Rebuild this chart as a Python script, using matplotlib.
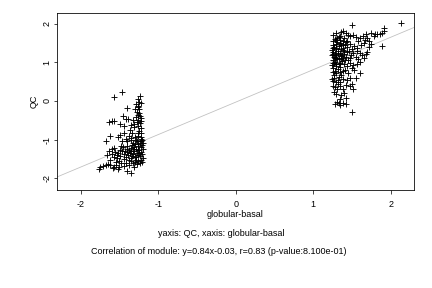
import matplotlib
matplotlib.use("Agg")
from matplotlib import pyplot as plt

# left cluster (basal side)
left_pts = [
    (-1.47, 0.24), (-1.57, 0.09), (-1.24, 0.14), (-1.27, 0.04), (-1.25, -0.04), (-1.29, -0.08),
    (-1.41, -0.19), (-1.27, -0.12), (-1.25, -0.22), (-1.30, -0.20),
    (-1.64, -0.54), (-1.60, -0.52), (-1.57, -0.53), (-1.46, -0.39), (-1.42, -0.46), (-1.39, -0.46),
    (-1.49, -0.61), (-1.44, -0.64), (-1.27, -0.36), (-1.24, -0.39), (-1.29, -0.41), (-1.27, -0.49),
    (-1.24, -0.58), (-1.26, -0.66), (-1.22, -0.71), (-1.25, -0.30), (-1.28, -0.29), (-1.23, -0.45),
    (-1.62, -0.91), (-1.68, -1.04), (-1.52, -0.94), (-1.49, -0.88), (-1.45, -0.84), (-1.37, -0.75),
    (-1.34, -0.82), (-1.32, -0.68), (-1.30, -0.93), (-1.27, -0.84), (-1.23, -0.93), (-1.25, -0.78),
    (-1.31, -0.60), (-1.48, -1.18), (-1.41, -1.05), (-1.36, -1.01), (-1.33, -1.09), (-1.38, -0.90),
    (-1.35, -0.95), (-1.29, -1.00), (-1.22, -0.98),
    (-1.22, -1.05), (-1.24, -1.10), (-1.21, -1.15), (-1.26, -1.12), (-1.23, -1.20), (-1.20, -1.25),
    (-1.25, -1.28), (-1.22, -1.32), (-1.21, -1.38), (-1.24, -1.42), (-1.20, -1.47), (-1.23, -1.52),
    (-1.26, -1.55), (-1.21, -1.58), (-1.24, -1.62), (-1.20, -1.10), (-1.21, -1.02),
    (-1.28, -1.05), (-1.30, -1.12), (-1.27, -1.18), (-1.29, -1.24), (-1.31, -1.30), (-1.28, -1.35),
    (-1.27, -1.41), (-1.30, -1.46), (-1.29, -1.52), (-1.27, -1.27), (-1.32, -1.20), (-1.33, -1.38),
    (-1.30, -1.58), (-1.34, -1.15), (-1.36, -1.22), (-1.35, -1.30), (-1.37, -1.35), (-1.34, -1.42),
    (-1.36, -1.48), (-1.38, -1.28), (-1.33, -1.25), (-1.39, -1.40), (-1.35, -1.55), (-1.38, -1.52),
    (-1.40, -1.33), (-1.41, -1.25), (-1.42, -1.45), (-1.44, -1.38), (-1.43, -1.30), (-1.45, -1.50),
    (-1.40, -1.18), (-1.47, -1.30), (-1.50, -1.28), (-1.52, -1.35), (-1.54, -1.40), (-1.49, -1.42),
    (-1.56, -1.32), (-1.53, -1.48), (-1.51, -1.55), (-1.58, -1.45), (-1.55, -1.58), (-1.60, -1.38),
    (-1.62, -1.52), (-1.48, -1.62), (-1.45, -1.68), (-1.51, -1.70), (-1.58, -1.72),
    (-1.77, -1.76), (-1.75, -1.72), (-1.72, -1.68), (-1.68, -1.65), (-1.65, -1.63), (-1.62, -1.66),
    (-1.59, -1.75), (-1.55, -1.65), (-1.52, -1.76), (-1.40, -1.81), (-1.35, -1.87), (-1.42, -1.62),
    (-1.38, -1.65), (-1.33, -1.62), (-1.32, -1.70), (-1.28, -1.63),
    (-1.64, -1.30), (-1.66, -1.40), (-1.57, -1.22), (-1.60, -1.24), (-1.46, -1.20),
    (-1.26, -0.15), (-1.23, -0.05), (-1.28, -0.55), (-1.22, -0.52), (-1.26, -0.92), (-1.23, -0.82),
    (-1.33, -0.50), (-1.36, -0.62), (-1.42, -0.98), (-1.47, -1.05), (-1.25, -1.35), (-1.29, -1.45),
]

# right cluster (globular side)
right_pts = [
    (1.25, 1.70), (1.30, 1.75), (1.36, 1.78), (1.39, 1.82), (1.42, 1.75), (1.45, 1.70), (1.50, 1.97),
    (1.33, 1.65), (1.28, 1.60), (1.26, 1.55), (1.31, 1.52), (1.35, 1.58), (1.40, 1.62), (1.44, 1.55),
    (1.48, 1.68), (1.52, 1.72), (1.55, 1.65),
    (1.25, 1.45), (1.27, 1.40), (1.30, 1.48), (1.33, 1.42), (1.36, 1.46), (1.38, 1.38), (1.41, 1.44),
    (1.44, 1.40), (1.47, 1.47), (1.50, 1.35), (1.53, 1.42), (1.56, 1.38),
    (1.24, 1.32), (1.26, 1.28), (1.29, 1.35), (1.32, 1.30), (1.35, 1.25), (1.38, 1.32), (1.40, 1.22),
    (1.43, 1.28), (1.46, 1.30), (1.49, 1.18), (1.52, 1.25),
    (1.24, 1.18), (1.27, 1.15), (1.30, 1.20), (1.33, 1.12), (1.36, 1.16), (1.39, 1.10), (1.42, 1.14),
    (1.45, 1.05), (1.48, 1.10), (1.55, 1.15),
    (1.25, 1.05), (1.28, 1.00), (1.31, 1.08), (1.34, 0.98), (1.37, 1.03), (1.40, 0.95), (1.43, 0.90),
    (1.47, 0.98), (1.52, 0.92),
    (1.24, 0.92), (1.26, 0.85), (1.29, 0.90), (1.32, 0.82), (1.35, 0.88), (1.38, 0.78), (1.41, 0.80),
    (1.45, 0.72), (1.50, 0.85),
    (1.25, 0.75), (1.27, 0.68), (1.30, 0.72), (1.33, 0.62), (1.36, 0.66), (1.39, 0.58), (1.44, 0.55),
    (1.48, 0.60),
    (1.24, 0.58), (1.26, 0.52), (1.29, 0.48), (1.32, 0.45), (1.35, 0.50), (1.42, 0.42), (1.47, 0.38),
    (1.50, 0.45),
    (1.25, 0.40), (1.28, 0.35), (1.31, 0.30), (1.34, 0.38), (1.38, 0.32), (1.51, 0.30),
    (1.27, 0.22), (1.30, 0.18), (1.36, 0.15), (1.40, 0.20), (1.42, 0.08), (1.35, 0.05),
    (1.31, -0.02), (1.28, -0.08), (1.33, -0.06), (1.35, -0.10), (1.38, -0.06), (1.42, -0.08),
    (1.50, -0.28),
    (1.26, 1.36), (1.28, 1.25), (1.30, 1.38), (1.32, 1.22), (1.34, 1.50), (1.36, 1.35), (1.38, 1.48),
    (1.30, 1.10), (1.27, 0.98), (1.33, 0.95), (1.36, 1.08), (1.40, 1.30), (1.29, 1.58), (1.31, 1.62),
    (1.35, 1.68), (1.38, 1.55), (1.42, 1.52), (1.26, 1.22), (1.28, 1.12), (1.37, 1.20), (1.41, 1.05),
    (1.25, 0.98), (1.30, 0.95), (1.34, 0.75), (1.28, 0.78), (1.32, 0.55), (1.27, 0.60),
    (1.58, 1.55), (1.60, 1.62), (1.62, 1.45), (1.65, 1.50), (1.67, 1.58), (1.70, 1.62), (1.72, 1.55),
    (1.75, 1.48), (1.78, 1.68), (1.80, 1.74), (1.83, 1.74), (1.86, 1.74), (1.89, 1.75), (1.92, 1.88),
    (1.91, 1.82), (2.13, 2.01), (1.75, 1.75), (1.68, 1.74), (1.64, 1.69), (1.57, 1.30), (1.60, 1.25),
    (1.63, 1.18), (1.58, 1.08), (1.61, 1.02), (1.65, 1.10), (1.68, 1.22), (1.70, 1.28), (1.56, 0.95),
    (1.61, 0.72), (1.53, 0.80), (1.89, 1.42), (1.72, 1.40), (1.55, 0.60),
]

slope, intercept = 0.84, -0.03
ticks = [-2, -1, 0, 1, 2]

plt.rcParams['font.family'] = ['Liberation Sans', 'DejaVu Sans']

fig = plt.figure(figsize=(6, 4), dpi=72)
ax = fig.add_axes([0.132, 0.340, 0.826, 0.615])

pts = left_pts + right_pts
xs = [p[0] for p in pts]
ys = [p[1] for p in pts]

xlim = (-2.31, 2.30)
ax.plot(xlim, [slope * v + intercept for v in xlim], c='#c0c0c0', lw=0.8, zorder=1)
ax.scatter(xs, ys, marker='+', c='black', s=26, linewidths=0.9, zorder=2)

ax.set_xlim(*xlim)
ax.set_ylim(-2.31, 2.28)
ax.set_xticks(ticks)
ax.set_yticks(ticks)
ax.set_xticklabels([str(t) for t in ticks], fontsize=9)
ax.set_yticklabels([str(t) for t in ticks], fontsize=9, rotation=90, va='center')
ax.tick_params(direction='out', length=3.5, width=0.7)
ax.tick_params(axis='x', pad=6)
ax.tick_params(axis='y', pad=2)
for s in ax.spines.values():
    s.set_linewidth(0.8)

ax.set_xlabel("globular-basal", fontsize=9, labelpad=1)
ax.set_ylabel("QC", fontsize=9, labelpad=4)

fig.text(0.512, 0.188, "yaxis: QC, xaxis: globular-basal", ha='center', va='center', fontsize=9)
fig.text(0.507, 0.125, "Correlation of module: y=0.84x-0.03, r=0.83 (p-value:8.100e-01)",
         ha='center', va='center', fontsize=9)

fig.savefig("out.png", dpi=72)
